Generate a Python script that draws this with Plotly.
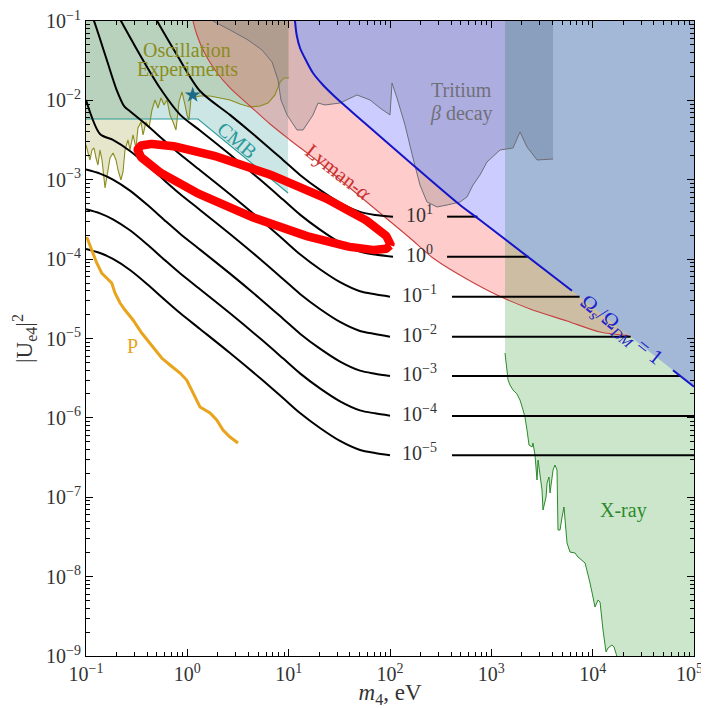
import numpy as np
import plotly.graph_objects as go

# ---------------- data: log10(m4 / eV) and log10(|U_e4|^2) ----------------
# Omega contours (black)
grid_logm = [-1.0, -0.862, -0.734, -0.566, -0.398, -0.220, -0.072, 0.125, 0.421, 0.717, 0.944,
             1.112, 1.309, 1.507, 1.704, 1.852, 2.0]
c_m5_logU = [-3.872, -3.923, -3.998, -4.137, -4.313, -4.515, -4.679, -4.880, -5.183, -5.498, -5.750,
             -5.939, -6.128, -6.291, -6.405, -6.443, -6.472]
c_m4_logU = [-3.372, -3.423, -3.498, -3.637, -3.813, -4.015, -4.179, -4.380, -4.683, -4.998, -5.250,
             -5.439, -5.628, -5.791, -5.905, -5.943, -5.972]
c_m3_logU = [-2.872, -2.923, -2.998, -3.137, -3.313, -3.515, -3.679, -3.880, -4.183, -4.498, -4.750,
             -4.939, -5.128, -5.291, -5.405, -5.443, -5.472]
c_m2_logU = [-1.995, -2.423, -2.498, -2.637, -2.813, -3.015, -3.179, -3.380, -3.683, -3.998, -4.250,
             -4.439, -4.628, -4.791, -4.905, -4.943, -4.977]
c_m1_logm = [-0.96, -0.921, -0.80, -0.70, -0.62, -0.566, -0.398, -0.220, -0.072, 0.125, 0.421, 0.717,
             0.944, 1.112, 1.309, 1.507, 1.704, 1.852, 2.0]
c_m1_logU = [-0.88, -1.0, -1.47, -1.86, -2.08, -2.137, -2.313, -2.515, -2.679, -2.880, -3.183, -3.498,
             -3.750, -3.939, -4.128, -4.291, -4.405, -4.443, -4.473]
c_0_logm = [-0.699, -0.655, -0.467, -0.270, -0.072, 0.125, 0.421, 0.717, 0.944, 1.112, 1.309, 1.507,
            1.704, 1.852, 2.03]
c_0_logU = [-0.9, -1.0, -1.428, -1.844, -2.179, -2.380, -2.683, -2.998, -3.250, -3.439, -3.628, -3.791,
            -3.905, -3.943, -3.969]
c_1_logm = [-0.345, -0.299, -0.102, 0.125, 0.421, 0.717, 0.944, 1.112, 1.309, 1.507, 1.704, 1.852, 2.03]
c_1_logU = [-0.9, -1.0, -1.428, -1.882, -2.183, -2.498, -2.750, -2.939, -3.128, -3.291, -3.405, -3.443,
            -3.465]

contour_labels = ["10<sup>1</sup>", "10<sup>0</sup>", "10<sup>−1</sup>", "10<sup>−2</sup>",
                  "10<sup>−3</sup>", "10<sup>−4</sup>", "10<sup>−5</sup>"]
level_logU = [-3.465, -3.969, -4.473, -4.977, -5.472, -5.976, -6.472]
seg_start_logm = [2.563, 2.563, 2.612, 2.612, 2.612, 2.612, 2.612]
seg_end_logm = [2.863, 3.367, 3.871, 4.375, 4.870, 5.0, 5.0]
label_logm = 2.296

# Omega_s / Omega_DM = 1 (blue)
blue_logm = [1.055, 1.063, 1.079, 1.112, 1.178, 1.240, 1.339, 1.438, 1.536, 1.773, 2.227, 2.691, 2.888,
             3.796, 4.793, 5.0]
blue_logU = [-0.9, -1.009, -1.176, -1.340, -1.513, -1.655, -1.806, -1.932, -2.046, -2.310, -2.814,
             -3.318, -3.507, -4.398, -5.400, -5.607]
blue_gap_logm = [3.796, 4.793]

# Lyman-alpha (red)
lya_logm = [0.045, 0.056, 0.095, 0.165, 0.273, 0.421, 0.618, 0.816, 1.013, 1.309, 1.605, 1.901, 2.197,
            2.424, 2.740, 3.056, 3.382, 3.747, 4.073, 4.36]
lya_logU = [-0.9, -1.0, -1.176, -1.391, -1.617, -1.844, -2.071, -2.298, -2.499, -2.789, -3.104, -3.419,
            -3.734, -3.986, -4.238, -4.452, -4.628, -4.780, -4.918, -4.965]

# Tritium beta decay (grey)
tri_logm = [0.24, 0.253, 0.421, 0.599, 0.737, 0.836, 0.895, 0.924, 0.984, 1.082, 1.142, 1.240, 1.290,
            1.359, 1.507, 1.674, 1.803, 1.901, 2.000, 2.020, 2.069, 2.148, 2.227, 2.296, 2.365, 2.464,
            2.563, 2.691, 2.760, 2.819, 2.888, 2.957, 3.086, 3.214, 3.283, 3.352, 3.451, 3.609]
tri_logU = [-0.9, -1.0, -1.113, -1.239, -1.365, -1.517, -1.743, -1.995, -2.184, -2.373, -2.373, -2.184,
            -2.033, -2.058, -2.033, -1.932, -1.995, -2.096, -2.184, -1.781, -1.970, -2.310, -2.726,
            -3.066, -3.280, -3.343, -3.318, -3.280, -3.217, -3.066, -2.940, -2.776, -2.625, -2.600,
            -2.398, -2.587, -2.751, -2.739]

# Oscillation experiments (olive)
osc_logm = [-1.000, -0.980, -0.961, -0.941, -0.921, -0.901, -0.882, -0.862, -0.842, -0.812, -0.783,
            -0.763, -0.733, -0.704, -0.684, -0.655, -0.635, -0.615, -0.586, -0.566, -0.536, -0.507,
            -0.487, -0.457, -0.437, -0.408, -0.378, -0.349, -0.319, -0.289, -0.260, -0.230, -0.201,
            -0.171, -0.141, -0.112, -0.082, -0.053, -0.023, -0.003, 0.017, 0.036, 0.056, 0.086,
            0.125, 0.224, 0.322, 0.421, 0.520, 0.619, 0.717, 0.796, 0.865, 0.915, 0.954, 1.003]
osc_logU = [-2.562, -2.650, -2.751, -2.625, -2.600, -2.726, -2.814, -2.625, -2.751, -3.104, -2.877,
            -2.726, -2.663, -2.751, -2.877, -3.003, -2.902, -2.625, -2.499, -2.625, -2.436, -2.600,
            -2.348, -2.272, -2.436, -2.272, -2.348, -2.121, -1.995, -2.096, -1.970, -2.058, -1.995,
            -2.184, -2.272, -2.373, -2.020, -1.894, -2.058, -2.184, -2.247, -1.970, -1.894, -1.957,
            -1.945, -1.945, -1.970, -1.995, -2.046, -2.083, -2.071, -2.033, -1.932, -1.769, -1.718,
            -1.718]
osc_right_logm = 1.003

# CMB (teal)
cmb_logm = [-1.0, 0.105, 0.994]
cmb_logU = [-2.235, -2.235, -3.167]

# X-ray (green)
xray_logm = [3.135, 3.145, 3.165, 3.184, 3.214, 3.253, 3.283, 3.313, 3.332, 3.352, 3.372, 3.402, 3.411,
             3.431, 3.451, 3.461, 3.500, 3.510, 3.540, 3.550, 3.569, 3.579, 3.609, 3.628, 3.648, 3.658,
             3.678, 3.698, 3.717, 3.747, 3.776, 3.826, 3.855, 3.925, 3.944, 3.974, 4.003, 4.023, 4.053,
             4.073, 4.102, 4.122, 4.132, 4.152, 4.191, 4.211, 4.240, 4.25]
xray_logU = [-5.183, -5.309, -5.523, -5.586, -5.649, -5.700, -5.775, -5.901, -5.989, -6.153, -6.342,
             -6.367, -6.317, -6.468, -6.783, -6.531, -6.909, -7.161, -6.997, -6.820, -6.745, -6.946,
             -6.657, -6.594, -6.657, -7.413, -7.413, -7.249, -7.123, -7.576, -7.690, -7.702, -7.753,
             -7.828, -7.917, -8.080, -8.257, -8.383, -8.295, -8.320, -8.673, -8.836, -8.950, -8.899,
             -8.861, -8.887, -8.987, -9.05]

# bound "P" (orange)
p_logm = [-0.993, -0.944, -0.894, -0.845, -0.796, -0.746, -0.714, -0.664, -0.615, -0.536, -0.450,
          -0.368, -0.319, -0.253, -0.171, -0.072, -0.006, 0.056, 0.125, 0.224, 0.290, 0.352, 0.421, 0.500]
p_logU = [-3.721, -3.885, -4.049, -4.175, -4.238, -4.301, -4.427, -4.553, -4.641, -4.767, -4.931,
          -5.057, -5.145, -5.246, -5.334, -5.435, -5.523, -5.687, -5.863, -5.939, -6.027, -6.153,
          -6.241, -6.317]

# star marker
star_logm = 0.053
star_logU = -1.932

# highlighted ellipse (centre and semi-axis vectors, in decades)
ell_center = (0.757, -3.217)
ell_axis_a = (1.244, -0.610)
ell_axis_b = (-0.081, -0.271)

# axis ticks (decades)
xt = [-1, 0, 1, 2, 3, 4, 5]
yt = [-9, -8, -7, -6, -5, -4, -3, -2, -1]

TOP = -0.9
BOTTOM = -9.05
RIGHT = 5.0

# ---------------- helpers ----------------
def P(v):
    return np.power(10.0, np.asarray(v, dtype=float))

SERIF = "Liberation Serif, Times New Roman, DejaVu Serif, serif"
TICK_COLOR = "#333333"
fig = go.Figure()

def fill(xs, ys, color):
    fig.add_trace(go.Scatter(x=P(xs), y=P(ys), mode="lines", fill="toself", fillcolor=color,
                             line=dict(width=0), hoverinfo="skip"))

def line(xs, ys, color, width, shape="linear"):
    fig.add_trace(go.Scatter(x=P(xs), y=P(ys), mode="lines",
                             line=dict(color=color, width=width, shape=shape,
                                       smoothing=0.8 if shape == "spline" else None),
                             hoverinfo="skip"))

# ---------------- filled regions ----------------
fill([-1.0] + osc_logm + [osc_right_logm, -1.0], [TOP] + osc_logU + [TOP, TOP], "rgba(128,128,0,0.2)")
fill([-1.0] + cmb_logm + [cmb_logm[-1], -1.0], [TOP] + cmb_logU + [TOP, TOP], "rgba(0,128,128,0.2)")
bl_x = [x for x in blue_logm if x < lya_logm[-1]]
bl_y = [y for x, y in zip(blue_logm, blue_logU) if x < lya_logm[-1]]
fill(lya_logm + bl_x[::-1], lya_logU + bl_y[::-1], "rgba(255,0,0,0.2)")
fill(tri_logm + [tri_logm[-1], tri_logm[0]], tri_logU + [TOP, TOP], "rgba(128,128,128,0.3)")
fill([xray_logm[0]] + xray_logm + [RIGHT, RIGHT], [TOP] + xray_logU + [BOTTOM, TOP], "rgba(0,128,0,0.2)")
fill(blue_logm + [RIGHT, blue_logm[0]], blue_logU + [TOP, TOP], "rgba(0,0,255,0.2)")

# ---------------- boundary lines ----------------
line(osc_logm, osc_logU, "#8c8c1e", 1.1)
line(cmb_logm, cmb_logU, "#2a9a9a", 1.1)
line(lya_logm, lya_logU, "#c84040", 1.1, shape="spline")
line(tri_logm, tri_logU, "#6e6e78", 1.0)
line(xray_logm, xray_logU, "#2a8a2a", 1.0)

# ---------------- Omega contours ----------------
curves = [
    (c_1_logm, c_1_logU), (c_0_logm, c_0_logU), (c_m1_logm, c_m1_logU), (grid_logm, c_m2_logU),
    (grid_logm, c_m3_logU), (grid_logm, c_m4_logU), (grid_logm, c_m5_logU),
]
for (xs, ys) in curves:
    line(xs, ys, "black", 2.0, shape="spline")
for i, lv in enumerate(level_logU):
    line([seg_start_logm[i], seg_end_logm[i]], [lv, lv], "black", 2.0)
    fig.add_annotation(x=label_logm, y=lv, xref="x", yref="y", text=contour_labels[i], showarrow=False,
                       font=dict(family=SERIF, size=20, color=TICK_COLOR), yshift=3)

bx1 = [x for x in blue_logm if x <= blue_gap_logm[0]]
by1 = blue_logU[:len(bx1)]
bx2 = [x for x in blue_logm if x >= blue_gap_logm[1]]
by2 = blue_logU[len(blue_logm) - len(bx2):]
line(bx1, by1, "#1414c8", 2.0, shape="spline")
line(bx2, by2, "#1414c8", 2.0)

line(p_logm, p_logU, "#e8a41c", 3.0)

fig.add_trace(go.Scatter(x=P([star_logm]), y=P([star_logU]), mode="markers",
                         marker=dict(symbol="star", size=12, color="#1c6a86"), hoverinfo="skip"))

t = np.linspace(0, 2 * np.pi, 241)
ex = ell_center[0] + np.cos(t) * ell_axis_a[0] + np.sin(t) * ell_axis_b[0]
ey = ell_center[1] + np.cos(t) * ell_axis_a[1] + np.sin(t) * ell_axis_b[1]
line(ex, ey, "#ff0000", 8.5)

# ---------------- text labels ----------------
def note(x, y, text, color, size=20, angle=0):
    fig.add_annotation(x=x, y=y, xref="x", yref="y", text=text, showarrow=False, textangle=angle,
                       font=dict(family=SERIF, size=size, color=color))

note(-0.003, -1.365, "Oscillation", "#8c8c1e", 20)
note(-0.003, -1.617, "Experiments", "#8c8c1e", 20)
note(0.490, -2.499, "CMB", "#2a9a9a", 20, 40)
note(1.487, -2.902, "Lyman-<i>α</i>", "#cc3030", 21, 38)
note(2.701, -1.869, "Tritium", "#707078", 20)
note(2.701, -2.159, "<i>β</i> decay", "#707078", 20)
note(4.280, -4.893, "Ω<sub><i>s</i></sub>/Ω<sub><i>DM</i></sub> = 1", "#2020c8", 21, 38.5)
note(4.300, -7.161, "X-ray", "#2a8a2a", 20)
note(-0.546, -5.094, "P", "#e8a41c", 20)

# ---------------- axes ----------------
def pow_label(k):
    return "10<sup>" + (str(k) if k >= 0 else "−" + str(-k)) + "</sup>"

# the last x tick label sits at the right border; draw it as an annotation so it is not cut
x_ticktext = [pow_label(k) if k != xt[-1] else "" for k in xt]
fig.add_annotation(x=xt[-1], y=0, xref="x", yref="paper", text=pow_label(xt[-1]), showarrow=False,
                   xanchor="center", yanchor="top", yshift=-3, xshift=-5,
                   font=dict(family=SERIF, size=20, color=TICK_COLOR))

x_minor = [k * 10.0 ** d for d in range(-1, 5) for k in range(2, 10)]
y_minor = [k * 10.0 ** d for d in range(-9, -1) for k in range(2, 10)]

axis_common = dict(type="log", showline=True, linecolor="black", linewidth=1.2, mirror="allticks",
                   ticks="inside", ticklen=7, tickwidth=1, tickcolor="black", showgrid=False,
                   zeroline=False, ticklabeloverflow="allow",
                   tickfont=dict(family=SERIF, size=20, color=TICK_COLOR))
fig.update_xaxes(range=[-1, 5], tickvals=P(xt), ticktext=x_ticktext,
                 minor=dict(tickvals=x_minor, ticks="inside", ticklen=3.5, tickcolor="black", showgrid=False),
                 title=dict(text="<i>m</i><sub>4</sub>, eV", font=dict(family=SERIF, size=23, color=TICK_COLOR),
                            standoff=8),
                 **axis_common)
fig.update_yaxes(range=[-9, -1], tickvals=P(yt), ticktext=[pow_label(k) for k in yt],
                 minor=dict(tickvals=y_minor, ticks="inside", ticklen=3.5, tickcolor="black", showgrid=False),
                 title=dict(text="|U<sub>e4</sub>|<sup>2</sup>", font=dict(family=SERIF, size=23, color=TICK_COLOR),
                            standoff=6),
                 **axis_common)

# the page body adds an 8 px offset, so the figure is 701x700 with margins chosen to put the
# plotting area at the same place as in the reference
fig.update_layout(width=701, height=700, margin=dict(l=78, r=15, t=13, b=52, autoexpand=False),
                  plot_bgcolor="white", paper_bgcolor="white", showlegend=False)

fig.write_html("out.html")
